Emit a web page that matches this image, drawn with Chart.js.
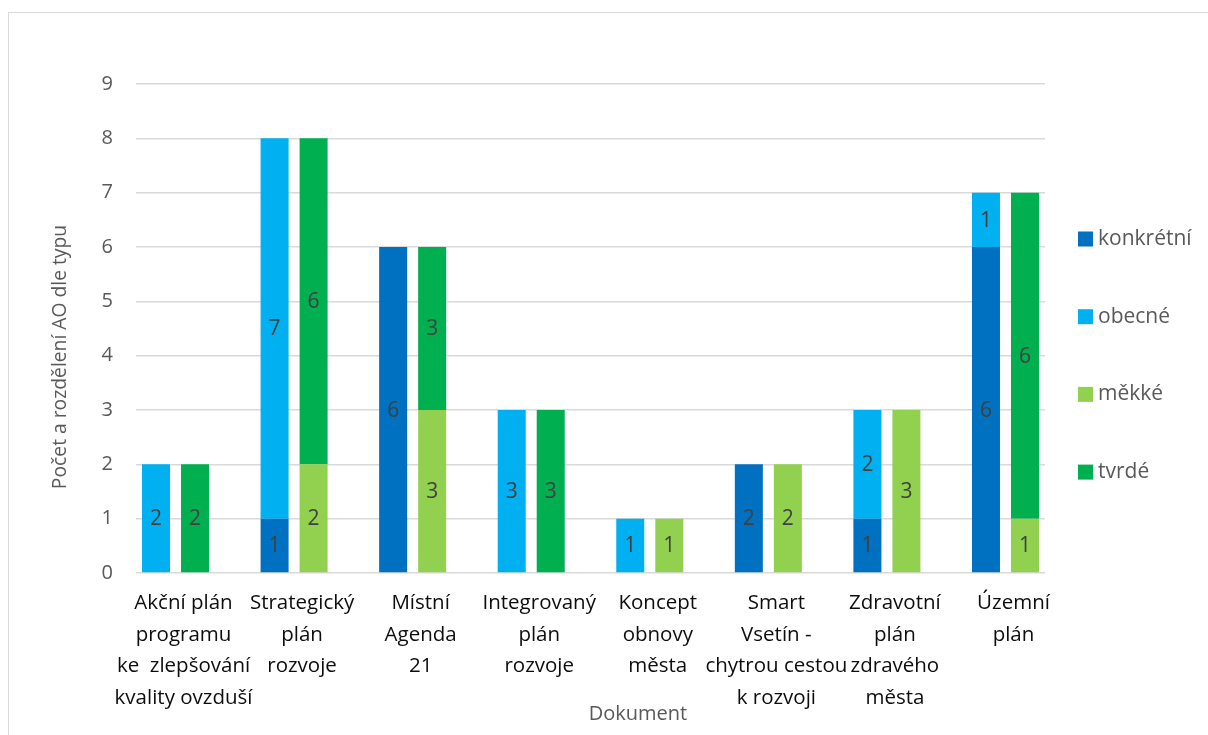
<!DOCTYPE html>
<html lang="cs">
<head>
<meta charset="utf-8">
<title>Počet a rozdělení AO dle typu</title>
<script src="https://cdn.jsdelivr.net/npm/chart.js@4.4.1/dist/chart.umd.min.js"></script>
<style>
  html, body { margin: 0; padding: 0; background: #fff; overflow: hidden; }
  #frame {
    position: absolute; left: 8px; top: 12px; width: 1230px; height: 760px;
    border: 1px solid #d9d9d9; box-sizing: border-box;
  }
  #chart { position: absolute; left: 0; top: 0; }
</style>
</head>
<body>
<div id="frame"></div>
<canvas id="chart" width="1208" height="735"></canvas>
<script>
// Documents (x axis), each label split into lines
const dokumenty = [
  ["Akční plán", "programu", "ke  zlepšování", "kvality ovzduší"],
  ["Strategický", "plán", "rozvoje"],
  ["Místní", "Agenda", "21"],
  ["Integrovaný", "plán", "rozvoje"],
  ["Koncept", "obnovy", "města"],
  ["Smart", "Vsetín -", "chytrou cestou", "k rozvoji"],
  ["Zdravotní", "plán", "zdravého", "města"],
  ["Územní", "plán"]
];

// Counts of AO per type
const konkretni = [0, 1, 6, 0, 0, 2, 1, 6];
const obecne    = [2, 7, 0, 3, 1, 0, 2, 1];
const mekke     = [0, 2, 3, 0, 1, 2, 3, 1];
const tvrde     = [2, 6, 3, 3, 0, 0, 0, 6];

const yTicks = [0, 1, 2, 3, 4, 5, 6, 7, 8, 9];

const FONT = "'Open Sans', 'DejaVu Sans', sans-serif";
Chart.defaults.font.family = FONT;

const points = (arr) => arr.map((v, i) => ({ x: i, y: v }));

const datasets = [
  { label: "konkrétní", data: points(konkretni), backgroundColor: "#0070C0", stack: "a" },
  { label: "obecné",    data: points(obecne),    backgroundColor: "#00B0F0", stack: "a" },
  { label: "měkké",     data: points(mekke),     backgroundColor: "#92D050", stack: "b" },
  { label: "tvrdé",     data: points(tvrde),     backgroundColor: "#00B050", stack: "b" }
];

// value written in the middle of each non-empty segment
const segmentLabels = {
  id: "segmentLabels",
  afterDatasetsDraw(chart) {
    const ctx = chart.ctx;
    ctx.save();
    ctx.font = "21px " + FONT;
    ctx.fillStyle = "#404040";
    ctx.textAlign = "center";
    ctx.textBaseline = "middle";
    chart.data.datasets.forEach((ds, di) => {
      const meta = chart.getDatasetMeta(di);
      meta.data.forEach((bar, i) => {
        const v = ds.data[i].y;
        if (!v) return;
        ctx.fillText(String(v), bar.x, (bar.y + bar.base) / 2 + 1);
      });
    });
    ctx.restore();
  }
};

// legend on the right and the two axis titles
const sideDecor = {
  id: "sideDecor",
  afterDraw(chart) {
    const ctx = chart.ctx;
    ctx.save();
    ctx.textBaseline = "middle";

    ctx.font = "21px " + FONT;
    chart.data.datasets.forEach((ds, i) => {
      const cy = 239 + i * 77.7;
      ctx.fillStyle = ds.backgroundColor;
      ctx.fillRect(1078, cy - 7.5, 15, 15);
      ctx.fillStyle = "#595959";
      ctx.textAlign = "left";
      ctx.fillText(ds.label, 1098, cy);
    });

    ctx.font = "20px " + FONT;
    ctx.fillStyle = "#595959";
    ctx.textAlign = "center";
    ctx.fillText("Dokument", 638, 714);

    ctx.font = "19.3px " + FONT;
    ctx.translate(61, 357);
    ctx.rotate(-Math.PI / 2);
    ctx.fillText("Počet a rozdělení AO dle typu", 0, 0);
    ctx.restore();
  }
};

new Chart(document.getElementById("chart"), {
  type: "bar",
  data: { datasets: datasets },
  options: {
    responsive: false,
    animation: false,
    devicePixelRatio: 1,
    categoryPercentage: 0.658,
    barPercentage: 0.718,
    layout: { padding: { left: 0, top: 84, right: 163, bottom: 0 } },
    plugins: {
      legend: { display: false },
      tooltip: { enabled: false }
    },
    scales: {
      x: {
        type: "linear",
        stacked: true,
        offset: false,
        bounds: "data",
        min: -1 / 3,
        max: dokumenty.length - 1 + 1 / 3,
        grid: { display: false, offset: false },
        border: { display: false },
        afterBuildTicks: (scale) => {
          scale.ticks = dokumenty.map((_, i) => ({ value: i }));
        },
        afterFit: (scale) => { scale.height = 162; },
        ticks: {
          autoSkip: false,
          maxRotation: 0,
          padding: 6,
          labelOffset: 8,
          color: "#0d0d0d",
          font: { size: 20.5, lineHeight: 1.55 },
          callback: (v) => dokumenty[v]
        }
      },
      y: {
        stacked: true,
        min: 0,
        max: yTicks[yTicks.length - 1],
        afterBuildTicks: (scale) => {
          scale.ticks = yTicks.map((v) => ({ value: v }));
        },
        afterFit: (scale) => { scale.width = 136; },
        grid: { color: "#d9d9d9", lineWidth: 1.5, drawTicks: false },
        border: { display: false },
        ticks: {
          padding: 23,
          color: "#595959",
          font: { size: 20 }
        }
      }
    }
  },
  plugins: [segmentLabels, sideDecor]
});
</script>
</body>
</html>
